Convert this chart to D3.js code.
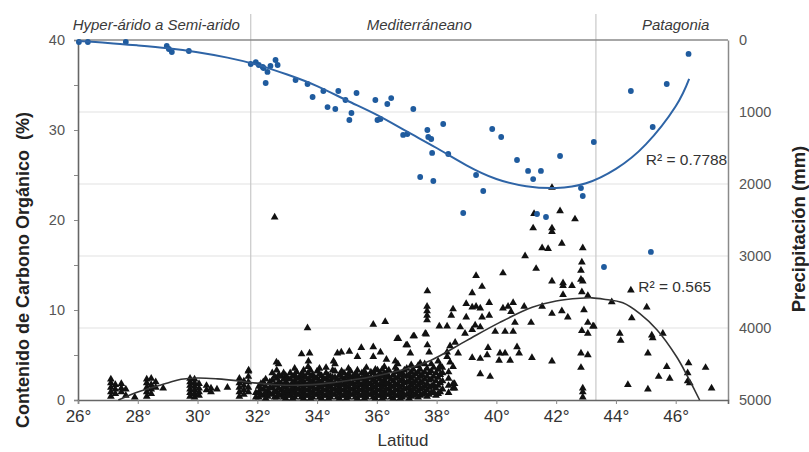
<!DOCTYPE html>
<html>
<head>
<meta charset="utf-8">
<script src="https://cdn.jsdelivr.net/npm/d3@7"></script>
<style>
body { margin: 0; background: #fff; }
text { font-family: "Liberation Sans", Arial, sans-serif; }
</style>
</head>
<body>
<div id="chart"></div>
<script>
var svgWidth = 809
var svgHeight = 452

// ticks
var latTicks = [26, 28, 30, 32, 34, 36, 38, 40, 42, 44, 46]
var carbonTicks = [0, 5, 10, 15, 20, 25, 30, 35, 40]
var precipTicks = [0, 1000, 2000, 3000, 4000, 5000]

// zonas climaticas
var regionNames = ["Hyper-árido a Semi-arido", "Mediterráneano", "Patagonia"]
var regionLabelLat = [28.62, 37.42, 46.0]
var regionBorders = [31.78, 43.33]

// precipitacion (mm) vs latitud, puntos azules
var precipPoints = [
  [26.03,28],[26.33,28],[27.60,28],[28.97,83],[29.04,125],[29.14,167],[29.71,153],
  [31.78,333],[31.95,306],[32.05,347],[32.21,389],[32.34,444],[32.18,375],[32.28,597],[32.61,278],[32.68,347],[32.44,361],
  [33.28,556],[33.68,611],[33.85,792],[34.21,708],[34.71,708],[34.35,931],[34.61,958],[34.95,833],[35.32,736],[35.15,1014],[35.08,1111],
  [35.95,833],[36.35,889],[36.48,806],[36.02,1111],[36.12,1097],[37.22,958],[36.88,1319],[37.02,1306],[37.69,1250],[37.72,1347],[37.82,1375],
  [38.22,1167],[37.85,1569],[38.39,1583],[37.45,1903],[37.89,1958],
  [39.32,1875],[39.56,2097],[38.89,2403],[39.86,1236],[40.16,1347],[40.69,1667],[41.06,1819],[41.23,1931],[41.49,1819],[42.13,1611],
  [41.36,2417],[41.66,2458],[42.83,2056],[42.89,2167],[43.26,1417],
  [43.60,3153],[44.50,708],[45.17,2944],[45.23,1208],[45.70,611],[46.43,194]
]

// curva de ajuste precipitacion
var precipFitLat = [26, 27, 28, 29, 30, 31, 32, 33, 34, 35, 36, 37, 38, 39, 40, 41, 42, 43, 44, 45, 46, 46.45]
var precipFitMm = [14, 40, 75, 115, 170, 245, 345, 480, 640, 840, 1040, 1270, 1500, 1740, 1930, 2030, 2055, 1990, 1790, 1450, 920, 540]

// carbono organico (%) - columnas densas [lat, valores]
var carbonCols = [
  [27.1,[0.4,0.9,1.4,1.9,2.3]],[27.25,[0.7,1.2,1.7]],[27.45,[0.9,1.3,1.8]],[27.6,[0.5,1.2]],[27.9,[0.3]],
  [28.3,[0.4,0.9,1.4,1.9,2.3]],[28.45,[0.7,1.2,1.7,2.4]],[28.6,[1.4,2.0]],[28.85,[1.3]],
  [29.75,[0.4,0.8,1.2,1.6,2.0,2.4]],[29.9,[0.3,0.7,1.1,1.5,1.9,2.3]],[30.05,[0.5,0.9,1.3,1.8]],
  [30.3,[1.1,1.6]],[30.45,[0.9,1.3]],[30.65,[1.2]],[31.0,[1.4]],
  [31.4,[0.4,0.9,1.4,1.9,2.4]],[31.55,[0.6,1.1,1.6,2.1]],[31.7,[0.9,1.4,2.0,2.6,3.2]],[31.95,[0.3,0.8]],
  [32.05,[0.3,0.9,1.5]],[32.2,[0.5,1.2,2.0]],[32.35,[0.4,1.0]],[32.5,[0.6,1.3,2.2,3.0]],
  [32.65,[0.3,0.9,1.6,2.4,3.3]],[32.8,[0.5,1.1,1.8,2.6]],[32.95,[0.2,0.8,1.4,2.0,2.7]],
  [33.1,[0.5,1.0,1.6,2.3,3.0]],[33.25,[0.3,0.9,1.5,2.1,2.8,3.5]],[33.4,[0.6,1.2,1.8,2.5]],
  [33.55,[0.2,0.8,1.4,2.0,2.7,3.3]],[33.7,[0.5,1.1,1.7,2.3,3.0,3.7]],[33.85,[0.3,0.9,1.5,2.1,2.8]],
  [34.0,[0.6,1.2,1.8,2.4,3.2]],[34.15,[0.2,0.8,1.4,2.0,2.7]],[34.3,[0.5,1.1,1.7,2.3,3.0,3.6]],
  [34.45,[0.3,0.9,1.5,2.1,2.6]],[34.6,[0.6,1.2,1.8,2.5,3.2,4.0]],[34.75,[0.2,0.8,1.4,2.0,2.8]],
  [34.9,[0.5,1.1,1.7,2.3,3.0]],[35.05,[0.3,0.9,1.5,2.2,2.9,3.5]],[35.2,[0.6,1.2,1.9,2.6]],
  [35.35,[0.2,0.8,1.4,2.0,2.7,3.3]],[35.5,[0.5,1.1,1.7,2.4,3.0]],[35.65,[0.3,0.9,1.5,2.1,2.8,3.6]],
  [35.8,[0.6,1.2,1.8,2.5,3.1]],[35.95,[0.2,0.8,1.4,2.0,2.7,3.4]],[36.1,[0.5,1.1,1.7,2.3,3.0]],
  [36.25,[0.3,0.9,1.6,2.2,2.9,3.7]],[36.4,[0.6,1.2,1.8,2.6,3.3]],[36.55,[0.2,0.8,1.5,2.1,2.8]],
  [36.7,[0.5,1.1,1.8,2.5,3.2,4.0]],[36.85,[0.3,0.9,1.6,2.3,3.0]],[37.0,[0.6,1.3,2.0,2.7,3.5]],
  [37.15,[0.4,1.0,1.7,2.4,3.1,3.9]],[37.3,[0.7,1.4,2.1,2.9]],[37.45,[0.5,1.2,1.9,2.6,3.4,4.1]],
  [37.6,[0.8,1.5,2.3,3.1,4.0]],[37.75,[0.6,1.4,2.2,3.0]],[37.9,[0.9,1.7,2.6,3.6]],
  [38.05,[0.7,1.6,2.5,3.4,4.3]],[38.2,[1.2,2.1,3.0]],[38.4,[0.8,1.6,2.4,3.1]],[38.6,[1.3,1.8]],
  [37.68,[8.9,9.4,9.9,10.4]]
]

// columnas intermedias del bloque denso 32-38°
var carbonColsMid = [
  [32.12,[0.6,1.2,1.8]],[32.28,[0.2,0.8,1.5,2.3]],[32.42,[0.7,1.4,2.0]],[32.58,[0.3,1.0,1.7,2.6]],
  [32.72,[0.6,1.3,2.0,2.8]],[32.88,[0.3,0.9,1.5,2.3,3.0]],[33.02,[0.5,1.1,1.7,2.4]],
  [33.18,[0.2,0.8,1.3,1.9,2.6]],[33.32,[0.6,1.2,1.8,2.4,3.1]],[33.48,[0.3,1.0,1.6,2.2,2.9]],
  [33.62,[0.5,1.1,1.7,2.5]],[33.78,[0.2,0.8,1.4,2.0,2.6,3.3]],[33.92,[0.6,1.2,1.8,2.5]],
  [34.08,[0.3,0.9,1.5,2.1,2.9,3.5]],[34.22,[0.5,1.1,1.7,2.4]],[34.38,[0.2,0.8,1.4,2.0,2.7]],
  [34.52,[0.6,1.2,1.9,2.5,3.3]],[34.68,[0.3,1.0,1.6,2.3]],[34.82,[0.5,1.1,1.7,2.5,3.2]],
  [34.98,[0.2,0.8,1.4,2.0,2.6]],[35.12,[0.6,1.2,1.8,2.5,3.2]],[35.28,[0.3,0.9,1.5,2.3,2.9]],
  [35.42,[0.5,1.1,1.8,2.4]],[35.58,[0.2,0.8,1.4,2.0,2.6,3.2]],[35.72,[0.6,1.2,1.9,2.5]],
  [35.88,[0.3,0.9,1.5,2.2,3.0]],[36.02,[0.5,1.1,1.7,2.5]],[36.18,[0.2,0.8,1.4,2.0,2.7,3.4]],
  [36.32,[0.6,1.2,1.9,2.5,3.0]],[36.48,[0.3,0.9,1.5,2.3]],[36.62,[0.5,1.1,1.7,2.4,3.1,3.6]],
  [36.78,[0.2,0.8,1.4,2.1,2.8]],[36.92,[0.5,1.2,1.9,2.6,3.3]],[37.08,[0.2,0.8,1.4,2.1,2.8]],
  [37.22,[0.5,1.2,1.9,2.6,3.4]],[37.38,[0.3,1.0,1.7,2.4,3.1,3.8]],[37.52,[0.6,1.3,2.0,2.8]],
  [37.68,[0.4,1.1,1.8,2.6,3.5]],[37.82,[0.8,1.5,2.3,3.2,4.0]],[37.98,[0.5,1.3,2.1,3.0]],
  [38.12,[0.9,1.9,2.8,3.8]]
]

// carbono organico (%) - puntos dispersos [lat, valor]
var carbonPts = [
  [32.58,20.3],[33.68,8.0],[35.88,8.4],[36.28,8.7],[33.48,5.1],[33.75,5.2],[33.71,4.3],[34.68,5.2],[34.81,5.3],
  [35.08,5.4],[35.48,5.8],[35.88,5.9],[36.12,5.3],[35.35,4.8],[35.88,4.8],[34.55,4.3],[36.02,3.3],[32.64,4.2],
  [32.71,4.0],[31.71,3.3],[36.68,6.8],[36.98,6.1],[37.22,7.1],[37.12,5.2],[36.32,4.5],[36.62,4.3],
  [41.86,23.6],[42.13,21.0],[41.26,20.7],[42.63,20.1],[41.23,19.1],[41.86,19.1],[41.86,18.7],[42.19,17.4],
  [41.53,16.9],[41.73,16.8],[42.89,16.9],[40.96,16.0],[42.86,15.3],[42.83,14.4],[41.33,14.6],[40.22,14.1],
  [39.32,13.8],[42.83,13.4],[42.89,13.2],[41.86,13.2],[42.23,13.0],[42.23,12.7],[42.53,12.7],[39.52,12.6],
  [39.19,11.9],[37.69,12.1],[42.23,11.7],[42.86,12.0],[43.06,11.6],[38.99,10.7],[39.32,10.4],[39.76,10.8],
  [39.46,10.2],[39.76,9.4],[40.22,10.2],[40.39,10.4],[40.56,10.8],[40.49,9.8],[40.93,10.4],[41.53,10.4],
  [42.19,9.9],[41.86,9.6],[42.39,9.2],[42.93,10.0],[43.06,8.6],[43.26,8.2],[42.86,7.7],[43.06,7.4],
  [37.62,7.4],[38.55,10.1],[38.49,9.4],[38.09,8.2],[38.35,8.2],[38.99,9.2],[39.19,10.3],[38.79,8.1],
  [38.95,7.4],[39.19,7.8],[39.29,8.3],[39.46,8.1],[39.52,9.2],[39.96,7.6],[40.29,7.6],[40.56,7.6],
  [40.62,8.6],[41.16,8.6],[36.72,6.8],[37.25,7.1],[37.65,7.3],[37.02,6.1],[37.69,6.1],[37.75,5.3],
  [38.45,6.0],[38.62,6.4],[38.35,5.3],[38.35,4.8],[38.72,5.2],[38.45,4.2],[38.55,3.7],[38.19,3.6],
  [39.19,4.7],[39.46,4.6],[39.72,5.8],[39.69,5.0],[40.12,5.2],[40.29,5.2],[40.69,5.9],[40.76,5.2],
  [40.09,4.4],[40.46,4.4],[41.19,4.7],[41.86,4.3],[42.83,5.2],[43.06,5.0],[42.83,3.6],[39.46,2.9],
  [39.79,2.6],[42.89,1.3],[42.89,0.9],[42.89,0.3],[38.55,1.8],[38.55,1.3],
  [44.50,12.2],[43.86,10.9],[45.03,10.3],[44.53,9.1],[43.23,8.2],[44.13,7.4],[44.16,6.6],[45.20,7.2],
  [45.23,6.9],[45.57,7.4],[45.07,5.2],[45.70,3.7],[46.43,4.1],[47.00,3.6],[45.43,2.6],[45.80,2.4],
  [46.40,3.0],[46.40,2.1],[46.47,1.9],[47.20,1.3],[44.40,1.7],[45.07,1.2]
]

// curva de ajuste carbono
var carbonFitLat = [27.35, 28.0, 28.45, 29.0, 29.45, 30.0, 30.67, 31.3, 31.88, 32.6, 33.45, 34.3, 35.1, 36.0, 36.8, 37.8, 39.0, 40.1, 41.2, 42.0, 42.8, 43.2, 43.6, 44.23, 44.8, 45.37, 46.03, 46.4, 46.8]
var carbonFitVal = [0, 0.9, 1.35, 1.9, 2.3, 2.45, 2.35, 2.15, 1.9, 1.7, 1.65, 1.85, 2.2, 2.7, 3.3, 4.4, 6.6, 8.6, 10.3, 11.0, 11.3, 11.35, 11.2, 10.8, 9.6, 7.8, 4.8, 2.6, 0]

var svg = d3.select("#chart").append("svg")
    .attr("width", svgWidth)
    .attr("height", svgHeight)

var plotLeft = 78, plotRight = 728, plotTop = 40, plotBottom = 400

var x = d3.scaleLinear().domain([26, 47.75]).range([plotLeft, plotRight])
var yC = d3.scaleLinear().domain([0, 40]).range([plotBottom, plotTop])
var yP = d3.scaleLinear().domain([0, 5000]).range([plotTop, plotBottom])

// lineas de grilla
svg.append("g").selectAll("line")
    .data(precipTicks.filter(function(d){ return d > 0 && d < 5000 }))
    .enter().append("line")
    .attr("x1", plotLeft).attr("x2", plotRight)
    .attr("y1", function(d){ return yP(d) }).attr("y2", function(d){ return yP(d) })
    .attr("stroke", "#e2e2e2").attr("stroke-width", 1.2)

// separadores de zonas
svg.append("g").selectAll("line")
    .data(regionBorders)
    .enter().append("line")
    .attr("x1", function(d){ return x(d) }).attr("x2", function(d){ return x(d) })
    .attr("y1", 14).attr("y2", plotBottom)
    .attr("stroke", "#c8c8c8").attr("stroke-width", 1.2)

svg.append("g").selectAll("text")
    .data(regionNames)
    .enter().append("text")
    .attr("x", function(d, i){ return x(regionLabelLat[i]) })
    .attr("y", 30)
    .attr("text-anchor", "middle")
    .attr("font-style", "italic")
    .attr("font-size", 15)
    .attr("fill", "#3a3a3a")
    .text(function(d){ return d })

// marco superior
svg.append("line")
    .attr("x1", plotLeft).attr("x2", plotRight).attr("y1", plotTop).attr("y2", plotTop)
    .attr("stroke", "#8a8a8a").attr("stroke-width", 1.5)

// ejes
var axisL = svg.append("g").attr("transform", "translate(" + plotLeft + ",0)")
    .call(d3.axisLeft(yC).tickValues(carbonTicks).tickSize(4).tickPadding(9)
        .tickFormat(function(d){ return d % 10 === 0 ? d : "" }))
var axisR = svg.append("g").attr("transform", "translate(" + plotRight + ",0)")
    .call(d3.axisRight(yP).tickValues(precipTicks).tickSize(0).tickPadding(11)
        .tickFormat(d3.format("d")))
var axisB = svg.append("g").attr("transform", "translate(0," + plotBottom + ")")
    .call(d3.axisBottom(x).tickValues(latTicks).tickSize(4).tickPadding(6)
        .tickFormat(function(d){ return d + "°" }))

axisL.selectAll(".domain").attr("stroke", "#666").attr("stroke-width", 1.6)
axisR.selectAll(".domain").attr("stroke", "#8a8a8a").attr("stroke-width", 1.5)
axisB.selectAll(".domain").attr("stroke", "#666").attr("stroke-width", 1.6)
svg.selectAll(".tick line").attr("stroke", "#888")
axisL.selectAll("text").attr("font-size", 14.5).attr("fill", "#555").style("font-family", "Liberation Sans, Arial")
axisR.selectAll("text").attr("font-size", 14.5).attr("fill", "#555").style("font-family", "Liberation Sans, Arial")
axisB.selectAll("text").attr("font-size", 17).attr("fill", "#333").style("font-family", "Liberation Sans, Arial")

// triangulos de carbono
var carbonData = []
carbonCols.concat(carbonColsMid).forEach(function(c){
    c[1].forEach(function(v){ carbonData.push([c[0], v]) })
})
carbonPts.forEach(function(p){ carbonData.push(p) })

var tri = d3.symbol().type(d3.symbolTriangle).size(26)
svg.append("g").selectAll("path")
    .data(carbonData)
    .enter().append("path")
    .attr("d", tri)
    .attr("transform", function(d){ return "translate(" + x(d[0]) + "," + yC(d[1]) + ")" })
    .attr("fill", "#111")

var carbonLine = d3.line()
    .x(function(d){ return x(d[0]) })
    .y(function(d){ return yC(d[1]) })
    .curve(d3.curveCatmullRom)
svg.append("path")
    .datum(carbonFitLat.map(function(d, i){ return [d, carbonFitVal[i]] }))
    .attr("d", carbonLine)
    .attr("fill", "none").attr("stroke", "#333").attr("stroke-width", 1.6)

// puntos de precipitacion
svg.append("g").selectAll("circle")
    .data(precipPoints)
    .enter().append("circle")
    .attr("cx", function(d){ return x(d[0]) })
    .attr("cy", function(d){ return yP(d[1]) })
    .attr("r", 2.9)
    .attr("fill", "#1f5b9e")

var precipLine = d3.line()
    .x(function(d){ return x(d[0]) })
    .y(function(d){ return yP(d[1]) })
    .curve(d3.curveNatural)
svg.append("path")
    .datum(precipFitLat.map(function(d, i){ return [d, precipFitMm[i]] }))
    .attr("d", precipLine)
    .attr("fill", "none").attr("stroke", "#2e64a6").attr("stroke-width", 2)

// R2
svg.append("text").attr("x", x(45.0)).attr("y", yP(1736))
    .attr("font-size", 15.5).attr("fill", "#333").text("R² = 0.7788")
svg.append("text").attr("x", x(44.75)).attr("y", yC(12.0))
    .attr("font-size", 15.5).attr("fill", "#333").text("R² = 0.565")

// titulos
svg.append("text")
    .attr("transform", "translate(29,270) rotate(-90)")
    .attr("text-anchor", "middle")
    .attr("font-size", 18).attr("font-weight", "bold").attr("fill", "#222")
    .style("white-space", "pre")
    .text("Contenido de Carbono Orgánico  (%)")
svg.append("text")
    .attr("transform", "translate(805,229) rotate(-90)")
    .attr("text-anchor", "middle")
    .attr("font-size", 18.5).attr("font-weight", "bold").attr("fill", "#222")
    .text("Precipitación (mm)")
svg.append("text")
    .attr("x", 403).attr("y", 446)
    .attr("text-anchor", "middle")
    .attr("font-size", 17).attr("fill", "#333")
    .text("Latitud")
</script>
</body>
</html>
